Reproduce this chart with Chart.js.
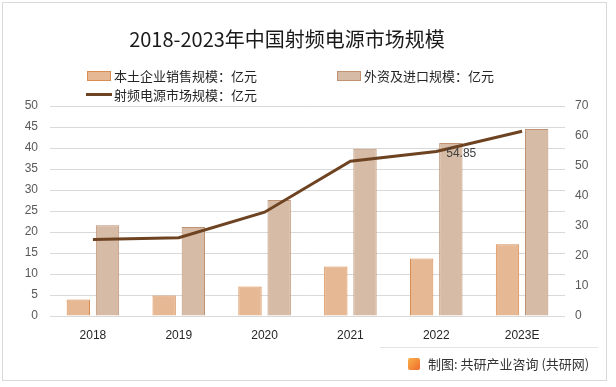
<!DOCTYPE html>
<html>
<head>
<meta charset="utf-8">
<script src="https://cdn.jsdelivr.net/npm/chart.js@4/dist/chart.umd.min.js"></script>
<style>
  html, body { margin: 0; padding: 0; background: #fff; }
  #wrap { position: relative; width: 616px; height: 387px; overflow: hidden; font-family: "Noto Sans CJK SC", sans-serif; }
  #frame { position: absolute; left: 2px; top: 2px; width: 605px; height: 379px; border: 1px solid #d9d9d9; box-sizing: border-box; }
  #title { position: absolute; left: 0; width: 574px; top: 25px; text-align: center; font-size: 20px; color: #1a1a1a; line-height: 28px; }
  .lg { position: absolute; font-size: 13px; color: #262626; line-height: 18px; white-space: nowrap; }
  .lg .box { display: inline-block; width: 22px; height: 8px; vertical-align: middle; margin-right: 3px; margin-top: -3px; border: 1px solid; }
  .lg .ln { display: inline-block; width: 26px; height: 3px; vertical-align: middle; margin-right: 2px; margin-top: -3px; }
  #sep { position: absolute; left: 380px; top: 347px; width: 218px; height: 1px; background: #e3e3e3; }
  #foot { position: absolute; left: 408px; top: 355px; font-size: 13px; color: #333; line-height: 18px; white-space: nowrap; }
  #foot .logo { display: inline-block; width: 12px; height: 12px; vertical-align: middle; margin-right: 8px; margin-top: -3px; border-radius: 2px; background: linear-gradient(135deg, #f9b24a, #ef6a2b); }
  canvas { position: absolute; left: 0; top: 0; }
</style>
</head>
<body>
<div id="wrap">
  <canvas id="c" width="616" height="387"></canvas>
  <div id="frame"></div>
  <div id="title">2018-2023年中国射频电源市场规模</div>
  <div id="legend"></div>
  <div id="sep"></div>
  <div id="foot"><span class="logo"></span>制图: 共研产业咨询 (共研网)</div>
</div>
<script>
const years = ["2018", "2019", "2020", "2021", "2022", "2023E"];
const localSales = [3.9, 4.9, 7.0, 11.8, 13.7, 17.1];
const foreignImport = [21.6, 21.2, 27.6, 39.8, 41.2, 44.5];
const marketSize = [25.5, 26.1, 34.6, 51.6, 54.85, 61.6];
const leftTicks = [0, 5, 10, 15, 20, 25, 30, 35, 40, 45, 50];
const rightTicks = [0, 10, 20, 30, 40, 50, 60, 70];

const labelLocal = "本土企业销售规模：亿元";
const labelForeign = "外资及进口规模：亿元";
const labelMarket = "射频电源市场规模：亿元";

const colors = {
  localFill: "#E6B894",
  localBorder: "#D98C50",
  foreignFill: "#D6BCA6",
  foreignBorder: "#BE9272",
  line: "#6E4322"
};

const numFont = { family: "'Liberation Sans', sans-serif", size: 12 };

// legend, built in html so it wraps like the original
const legendItems = [
  { text: labelLocal, left: 87, top: 67, type: "box", fill: colors.localFill, border: colors.localBorder },
  { text: labelForeign, left: 337, top: 67, type: "box", fill: colors.foreignFill, border: colors.foreignBorder },
  { text: labelMarket, left: 86, top: 86, type: "line", fill: colors.line }
];
const legendEl = document.getElementById("legend");
legendItems.forEach(it => {
  const d = document.createElement("div");
  d.className = "lg";
  d.style.left = it.left + "px";
  d.style.top = it.top + "px";
  const mark = document.createElement("span");
  if (it.type === "box") {
    mark.className = "box";
    mark.style.background = it.fill;
    mark.style.borderColor = it.border;
  } else {
    mark.className = "ln";
    mark.style.background = it.fill;
  }
  d.appendChild(mark);
  d.appendChild(document.createTextNode(it.text));
  legendEl.appendChild(d);
});

// the one value label on the line (2022)
const pointLabel = {
  id: "pointLabel",
  afterDatasetsDraw(chart) {
    const meta = chart.getDatasetMeta(0);
    const idx = 4;
    const pt = meta.data[idx];
    if (!pt) return;
    const ctx = chart.ctx;
    ctx.save();
    ctx.font = "12px 'Liberation Sans', sans-serif";
    ctx.fillStyle = "#404040";
    ctx.textAlign = "center";
    ctx.textBaseline = "middle";
    ctx.fillText(String(marketSize[idx]), pt.x + 25, pt.y + 2);
    ctx.restore();
  }
};

new Chart(document.getElementById("c"), {
  data: {
    labels: years,
    datasets: [
      {
        type: "line",
        label: labelMarket,
        data: marketSize,
        yAxisID: "y1",
        borderColor: colors.line,
        backgroundColor: colors.line,
        borderWidth: 3,
        pointRadius: 0,
        tension: 0,
        order: 0
      },
      {
        type: "bar",
        label: labelLocal,
        data: localSales,
        yAxisID: "y",
        backgroundColor: colors.localFill,
        borderColor: colors.localBorder,
        borderWidth: 1,
        categoryPercentage: 0.68,
        barPercentage: 0.8,
        order: 1
      },
      {
        type: "bar",
        label: labelForeign,
        data: foreignImport,
        yAxisID: "y",
        backgroundColor: colors.foreignFill,
        borderColor: colors.foreignBorder,
        borderWidth: 1,
        categoryPercentage: 0.68,
        barPercentage: 0.8,
        order: 1
      }
    ]
  },
  options: {
    responsive: false,
    animation: false,
    layout: { padding: { top: 106, bottom: 41, left: 0, right: 0 } },
    plugins: {
      legend: { display: false },
      title: { display: false },
      tooltip: { enabled: false }
    },
    scales: {
      x: {
        grid: { display: false },
        border: { display: false },
        ticks: { color: "#262626", font: numFont, padding: 4 },
        afterFit: s => { s.height = 30; }
      },
      y: {
        position: "left",
        min: 0,
        max: 50,
        afterBuildTicks: s => { s.ticks = leftTicks.map(v => ({ value: v })); },
        grid: { color: "#d9d9d9", drawTicks: false },
        border: { display: false },
        ticks: { color: "#595959", font: numFont, padding: 12 },
        afterFit: s => { s.width = 50; }
      },
      y1: {
        position: "right",
        min: 0,
        max: 70,
        afterBuildTicks: s => { s.ticks = rightTicks.map(v => ({ value: v })); },
        grid: { display: false, drawTicks: false },
        border: { display: false },
        ticks: { color: "#595959", font: numFont, padding: 10 },
        afterFit: s => { s.width = 51; }
      }
    }
  },
  plugins: [pointLabel]
});
</script>
</body>
</html>
